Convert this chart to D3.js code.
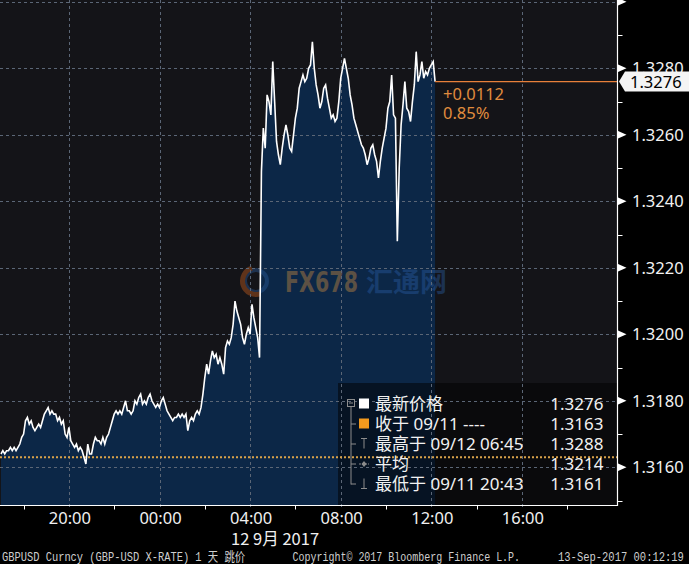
<!DOCTYPE html>
<html><head><meta charset="utf-8">
<script src="https://cdn.jsdelivr.net/npm/d3@7"></script>
<style>
html,body{margin:0;padding:0;background:#000;}
svg{display:block;}
</style></head><body>
<svg id="c" width="689" height="564"></svg>
<script>
// ---------- data ----------
const startTime = new Date(2017, 8, 11, 17, 0);
const stepMinutes = 5;
const prices = [
  1.3164,1.3165,1.3164,1.3165,1.3165,1.3166,1.3165,1.3166,1.3165,1.3166,1.3167,1.3169,
  1.3170,1.3174,1.3175,1.3173,1.3174,1.3172,1.3171,1.3172,1.3173,1.3172,1.3174,1.3176,
  1.3177,1.3178,1.3176,1.3177,1.3176,1.3176,1.3174,1.3175,1.3173,1.3174,1.3170,1.3169,
  1.3172,1.3168,1.3167,1.3166,1.3167,1.3165,1.3166,1.3165,1.3163,1.3161,1.3167,1.3164,
  1.3164,1.3167,1.3169,1.3168,1.3168,1.3167,1.3169,1.3167,1.3169,1.3170,1.3172,1.3174,
  1.3176,1.3177,1.3176,1.3177,1.3176,1.3178,1.3180,1.3177,1.3177,1.3176,1.3177,1.3180,
  1.3179,1.3181,1.3182,1.3179,1.3180,1.3179,1.3181,1.3182,1.3180,1.3179,1.3178,1.3179,
  1.3178,1.3180,1.3181,1.3179,1.3177,1.3176,1.3175,1.3174,1.3175,1.3175,1.3176,1.3175,
  1.3176,1.3175,1.3176,1.3171,1.3174,1.3175,1.3174,1.3176,1.3177,1.3176,1.3178,1.3182,
  1.3187,1.3191,1.3188,1.3192,1.3195,1.3193,1.3194,1.3191,1.3193,1.3191,1.3188,1.3196,
  1.3198,1.3197,1.3199,1.3203,1.3210,1.3207,1.3205,1.3203,1.3199,1.3197,1.3200,1.3202,
  1.3200,1.3209,1.3205,1.3202,1.3199,1.3193,1.3249,1.3262,1.3256,1.3272,1.3270,1.3266,
  1.3282,1.3270,1.3258,1.3254,1.3251,1.3256,1.3260,1.3263,1.3260,1.3256,1.3255,1.3260,
  1.3265,1.3268,1.3274,1.3276,1.3278,1.3276,1.3277,1.3280,1.3281,1.3288,1.3280,1.3275,
  1.3272,1.3268,1.3270,1.3274,1.3275,1.3271,1.3268,1.3265,1.3266,1.3264,1.3265,1.3270,
  1.3277,1.3280,1.3283,1.3280,1.3277,1.3272,1.3269,1.3265,1.3263,1.3261,1.3259,1.3257,
  1.3256,1.3254,1.3251,1.3253,1.3256,1.3257,1.3254,1.3252,1.3247,1.3252,1.3256,1.3259,
  1.3262,1.3268,1.3270,1.3278,1.3266,1.3265,1.3228,1.3250,1.3263,1.3269,1.3276,1.3268,
  1.3267,1.3264,1.3270,1.3275,1.3285,1.3276,1.3278,1.3282,1.3277,1.3279,1.3278,1.3280,
  1.3281,1.3282,1.3276
];
const yGridValues  = [1.3160,1.3180,1.3200,1.3220,1.3240,1.3260,1.3280,1.3300];
const yLabelValues = [1.3160,1.3180,1.3200,1.3220,1.3240,1.3260,1.3280];
const yMinorValues = [1.3150,1.3170,1.3190,1.3210,1.3230,1.3250,1.3270,1.3290];
const xLabelTimes = [new Date(2017,8,11,20), new Date(2017,8,12,0), new Date(2017,8,12,4),
                     new Date(2017,8,12,8), new Date(2017,8,12,12), new Date(2017,8,12,16)];
const xLabelText = ["20:00","00:00","04:00","08:00","12:00","16:00"];
const xTickTimes = [new Date(2017,8,11,18), new Date(2017,8,11,22), new Date(2017,8,12,2),
                    new Date(2017,8,12,6), new Date(2017,8,12,10), new Date(2017,8,12,14), new Date(2017,8,12,18)];
const dateLabel = "12 9月 2017";
const prevClose = 1.3163;
const lastPrice = 1.3276;
const changeLines = ["+0.0112", "0.85%"];
const legendLabels = ["最新价格", "收于 09/11 ----", "最高于 09/12 06:45", "平均", "最低于 09/11 20:43"];
const legendValues = ["1.3276", "1.3163", "1.3288", "1.3214", "1.3161"];
const footerTexts = ["GBPUSD Curncy (GBP-USD X-RATE) 1 天  跳价", "Copyright\u00A9 2017 Bloomberg Finance L.P.", "13-Sep-2017 00:12:19"];

// ---------- layout ----------
const W = 689, H = 564;
const plotR = 617.5, plotB = 505.5;
const svg = d3.select("#c");
const x = d3.scaleTime()
  .domain([new Date(2017,8,11,17,0), new Date(2017,8,12,12,0)])
  .range([0.95, 431.3]);
const y = d3.scaleLinear().domain([1.3160, 1.3280]).range([467.3, 68.3]);
const data = prices.map((v,i)=>({t:new Date(startTime.getTime()+i*stepMinutes*60000), v}));
const axisFont = "'Noto Sans', 'Open Sans', sans-serif";
const cjkFont = "'Noto Sans CJK SC', 'Noto Sans', sans-serif";
const mixFont = "'Noto Sans', 'Noto Sans CJK SC', sans-serif";

svg.append("rect").attr("width",W).attr("height",H).attr("fill","#000");
svg.append("rect").attr("x",0).attr("y",0).attr("width",plotR).attr("height",plotB).attr("fill","#141418");

// area
svg.append("path").datum(data)
  .attr("d", d3.area().x(d=>x(d.t)).y0(plotB).y1(d=>y(d.v)))
  .attr("fill","#0c2747");

// watermark
const wm = svg.append("g").attr("opacity",0.4);
wm.append("circle").attr("cx",256).attr("cy",281).attr("r",11).attr("fill","none").attr("stroke","#2c5ea0").attr("stroke-width",4);
wm.append("path").attr("d", d3.arc()({innerRadius:11, outerRadius:16, startAngle:Math.PI*0.9, endAngle:Math.PI*1.9}))
  .attr("transform","translate(256,281)").attr("fill","#d0621e");
const fxText = wm.append("text").attr("font-family","'DejaVu Sans', sans-serif")
  .attr("font-weight","bold").attr("font-size",28).attr("fill","#d39040").text("FX678");
const fxW = fxText.node().getComputedTextLength();
fxText.attr("transform",`translate(285,292) scale(${73/fxW},1)`);
wm.append("text").attr("x",366).attr("y",292).attr("font-family",cjkFont).attr("font-weight","bold")
  .attr("font-size",27).attr("fill","#2a5fa8").text("汇通网");

// legend background
svg.append("rect").attr("x",338).attr("y",383).attr("width",plotR-338).attr("height",plotB-383)
  .attr("fill","#000").attr("opacity",0.5);

// grid
const gridColor = "#5b6676";
svg.append("g").selectAll("line").data(yGridValues).join("line")
  .attr("x1",0).attr("x2",plotR).attr("y1",d=>Math.round(y(d))+0.5).attr("y2",d=>Math.round(y(d))+0.5)
  .attr("stroke",gridColor).attr("stroke-width",1).attr("stroke-dasharray","3,3");
svg.append("g").selectAll("line").data(xLabelTimes).join("line")
  .attr("x1",d=>Math.round(x(d))+0.5).attr("x2",d=>Math.round(x(d))+0.5).attr("y1",0).attr("y2",510)
  .attr("stroke",gridColor).attr("stroke-width",1).attr("stroke-dasharray","3,3");

// previous close dotted line
svg.append("line").attr("x1",0).attr("x2",plotR).attr("y1",y(prevClose)).attr("y2",y(prevClose))
  .attr("stroke","#d9a24a").attr("stroke-width",2).attr("stroke-dasharray","2,2");

// price line
svg.append("path").datum(data)
  .attr("d", d3.line().x(d=>x(d.t)).y(d=>y(d.v)))
  .attr("fill","none").attr("stroke","#ffffff").attr("stroke-width",1.6).attr("stroke-linejoin","miter");

// last price line
const lastX = x(data[data.length-1].t);
svg.append("line").attr("x1",lastX).attr("x2",plotR).attr("y1",y(lastPrice)).attr("y2",y(lastPrice))
  .attr("stroke","#e8803a").attr("stroke-width",1.3);

// axes lines
svg.append("line").attr("x1",plotR).attr("x2",plotR).attr("y1",0).attr("y2",plotB+0.5).attr("stroke","#fff").attr("stroke-width",1.2);
svg.append("line").attr("x1",0).attr("x2",plotR).attr("y1",plotB).attr("y2",plotB).attr("stroke","#fff").attr("stroke-width",1.2);

// bottom ticks
svg.append("g").selectAll("line").data(xTickTimes).join("line")
  .attr("x1",d=>Math.round(x(d))+0.5).attr("x2",d=>Math.round(x(d))+0.5).attr("y1",plotB).attr("y2",plotB+4)
  .attr("stroke","#fff").attr("stroke-width",1);

// right axis: triangles, minor ticks, labels
svg.append("g").selectAll("path").data(yGridValues).join("path")
  .attr("d",d=>{const yy=y(d);return `M${plotR},${yy-4}L${plotR+9},${yy}L${plotR},${yy+4}Z`;})
  .attr("fill","#fff");
svg.append("g").selectAll("line").data(yMinorValues).join("line")
  .attr("x1",plotR).attr("x2",plotR+5).attr("y1",d=>Math.round(y(d))+0.5).attr("y2",d=>Math.round(y(d))+0.5)
  .attr("stroke","#fff").attr("stroke-width",1);
svg.append("g").selectAll("text").data(yLabelValues).join("text")
  .attr("x",632).attr("y",d=>y(d)+6).attr("font-family",axisFont).attr("font-size",16.5)
  .attr("fill","#f2f2f2").text(d=>d.toFixed(4));

// last price tag
const ly = y(lastPrice);
svg.append("path").attr("d",`M619,${ly}L625,${ly-10}L689,${ly-10}L689,${ly+10}L625,${ly+10}Z`).attr("fill","#f4f4f4");
svg.append("text").attr("x",630).attr("y",ly+6.5).attr("font-family",axisFont).attr("font-size",16.5)
  .attr("fill","#000").text(lastPrice.toFixed(4));

// change text
svg.append("g").selectAll("text").data(changeLines).join("text")
  .attr("x",443).attr("y",(d,i)=>100+i*18.5).attr("font-family",axisFont).attr("font-size",16.5)
  .attr("fill","#e08c3e").text(d=>d);

// x labels
svg.append("g").selectAll("text").data(xLabelText).join("text")
  .attr("x",(d,i)=>x(xLabelTimes[i])+1).attr("y",523.5).attr("text-anchor","middle")
  .attr("font-family",axisFont).attr("font-size",16.5).attr("fill","#f0f0f0").text(d=>d);
svg.append("text").attr("x",x(xLabelTimes[2])+25).attr("y",544.5).attr("text-anchor","middle")
  .attr("font-family",cjkFont).attr("font-size",16.5).attr("fill","#f0f0f0").text(dateLabel);

// legend
const lg = svg.append("g");
const rowY = [403.5,423.5,443.5,463.5,483.5];
const iconCol = "#8c8c8c";
lg.append("rect").attr("x",347.5).attr("y",399.5).attr("width",7).attr("height",7).attr("fill","none").attr("stroke",iconCol);
lg.append("line").attr("x1",349).attr("x2",353).attr("y1",403).attr("y2",403).attr("stroke",iconCol);
lg.append("line").attr("x1",351).attr("x2",351).attr("y1",407).attr("y2",rowY[4]+1).attr("stroke",iconCol);
lg.selectAll("line.stub").data(rowY.slice(1)).join("line").attr("class","stub")
  .attr("x1",351).attr("x2",356).attr("y1",d=>d+0.5).attr("y2",d=>d+0.5).attr("stroke",iconCol);
lg.append("rect").attr("x",359).attr("y",rowY[0]-5).attr("width",10).attr("height",10).attr("fill","#fff");
lg.append("rect").attr("x",359).attr("y",rowY[1]-5).attr("width",10).attr("height",10).attr("fill","#f39a1e");
lg.append("path").attr("d",`M361,${rowY[2]-5}H367M364,${rowY[2]-5}V${rowY[2]+5}`).attr("stroke",iconCol).attr("fill","none");
lg.append("path").attr("d",`M359,${rowY[3]+0.5}H369`).attr("stroke",iconCol).attr("stroke-dasharray","2,1").attr("fill","none");
lg.append("path").attr("d",`M364,${rowY[3]-2.5}L366.5,${rowY[3]+0.5}L364,${rowY[3]+3.5}L361.5,${rowY[3]+0.5}Z`).attr("fill",iconCol);
lg.append("path").attr("d",`M364,${rowY[4]-5}V${rowY[4]+5}M361,${rowY[4]+5}H367`).attr("stroke",iconCol).attr("fill","none");
lg.selectAll("text.lab").data(legendLabels).join("text").attr("class","lab")
  .attr("x",375).attr("y",(d,i)=>rowY[i]+6.5).attr("font-family",mixFont).attr("font-size",17)
  .attr("fill","#f2f2f2").text(d=>d);
lg.selectAll("text.val").data(legendValues).join("text").attr("class","val")
  .attr("x",603.5).attr("y",(d,i)=>rowY[i]+6.5).attr("text-anchor","end").attr("font-family",mixFont).attr("font-size",17)
  .attr("fill","#f2f2f2").text(d=>d);

// footer (narrow monospace, stretched vertically)
const footX = [2, 292.5, 558];
const footSize = [10.4, 10, 10.5];
svg.append("g").selectAll("text").data(footerTexts).join("text")
  .attr("transform",(d,i)=>`translate(${footX[i]},560.5) scale(1,1.25)`)
  .attr("font-family","'Liberation Mono', 'Noto Sans CJK SC', monospace").attr("font-size",(d,i)=>footSize[i])
  .attr("fill","#cfcfcf").text(d=>d);
</script>
</body></html>
